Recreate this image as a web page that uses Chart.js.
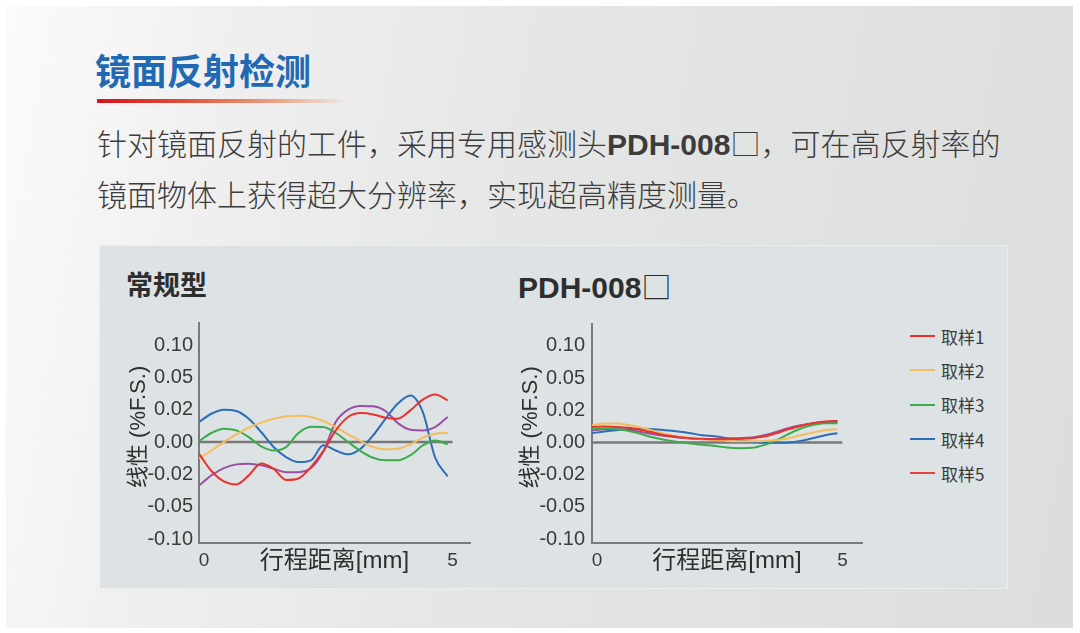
<!DOCTYPE html>
<html>
<head>
<meta charset="utf-8">
<script src="https://cdn.jsdelivr.net/npm/chart.js@4.4.0/dist/chart.umd.min.js"></script>
<style>
html,body{margin:0;padding:0;background:#fff;}
body{width:1080px;height:633px;position:relative;overflow:hidden;font-family:"Noto Sans CJK SC",sans-serif;}
.abs{position:absolute;white-space:nowrap;}
#card{left:6px;top:6px;width:1067px;height:622px;background:linear-gradient(100deg,#fbfbfb 0%,#eeeeee 22%,#e4e5e5 50%,#dcdddd 100%);}
#title{left:95px;top:51px;font-size:36px;font-weight:700;color:#1f6ab3;line-height:1;}
#uline{left:97px;top:99px;width:250px;height:4px;background:linear-gradient(90deg,#d4141a 0%,#e0503a 35%,#eaa080 70%,rgba(240,200,180,0) 100%);}
.para{left:97px;font-size:30px;line-height:1;color:#3c3c3c;font-weight:300;}
.para b{font-family:"Liberation Sans",Arial,sans-serif;font-weight:700;}
#panel{left:100px;top:246px;width:907px;height:342px;background:#dde3e4;box-shadow:0 0 0 1px #eceeee;}
.hdr{font-size:27px;font-weight:700;color:#2e2e2e;line-height:1;}
#hdr2{font-family:"Liberation Sans","Noto Sans CJK SC",sans-serif;font-size:30px;}
#hdr2 span{font-weight:400;font-family:"Noto Sans CJK SC";}
canvas{position:absolute;}
#legend{left:910px;top:319px;}
.li{display:flex;align-items:center;height:34.3px;font-size:17px;color:#3a3a3a;}
.li i{display:inline-block;width:25px;height:2px;margin-right:6px;}
</style>
</head>
<body>
<div id="card" class="abs"></div>
<div id="title" class="abs">镜面反射检测</div>
<div id="uline" class="abs"></div>
<div class="abs para" style="top:127px">针对镜面反射的工件，采用专用感测头<b>PDH-008</b>□，可在高反射率的</div>
<div class="abs para" style="top:178px">镜面物体上获得超大分辨率，实现超高精度测量。</div>
<div id="panel" class="abs"></div>
<div class="abs hdr" style="left:126px;top:270px">常规型</div>
<div id="hdr2" class="abs hdr" style="left:518px;top:270px">PDH-008<span>□</span></div>
<canvas id="c1" width="370" height="280" style="left:110px;top:305px"></canvas>
<canvas id="c2" width="372" height="280" style="left:500px;top:305px"></canvas>
<div id="legend" class="abs"></div>
<script>
// ---- data ----
const X_POS = [0,0.25,0.5,0.75,1,1.25,1.5,1.75,2,2.25,2.5,2.75,3,3.25,3.5,3.75,4,4.25,4.5,4.75,5];
const X_TICKS = [0,5];
const Y_TICKS = [-0.10,-0.05,-0.02,0.00,0.02,0.05,0.10];
const SERIES_NAMES = ['取样1','取样2','取样3','取样4','取样5'];
const CHART_TITLES = ['常规型','PDH-008□'];
const Y_TITLE = '  线性 (%F.S.)';
const X_TITLE = '行程距离[mm]';

// 常规型
const CONV_1 = [-0.0072,-0.0179,-0.0265,-0.0293,-0.0209,-0.0132,-0.0165,-0.0252,-0.0238,-0.0155,-0.0056,0.0072,0.0155,0.0179,0.0171,0.0150,0.0144,0.0196,0.0293,0.0341,0.0287];
const CONV_2 = [-0.0103,-0.0052,0.0000,0.0047,0.0089,0.0120,0.0144,0.0159,0.0163,0.0155,0.0130,0.0093,0.0047,0.0006,-0.0031,-0.0045,-0.0041,-0.0014,0.0027,0.0052,0.0056];
const CONV_3 = [0.0006,0.0056,0.0082,0.0072,0.0031,-0.0027,-0.0052,-0.0031,0.0056,0.0095,0.0093,0.0056,0.0000,-0.0056,-0.0097,-0.0113,-0.0113,-0.0082,-0.0021,0.0010,-0.0014];
const CONV_4 = [0.0124,0.0175,0.0200,0.0192,0.0144,0.0062,-0.0031,-0.0093,-0.0124,-0.0113,-0.0020,-0.0052,-0.0076,-0.0041,0.0041,0.0144,0.0257,0.0332,0.0186,-0.0097,-0.0218];
const CONV_5 = [-0.0302,-0.0209,-0.0161,-0.0138,-0.0134,-0.0144,-0.0165,-0.0186,-0.0186,-0.0161,-0.0058,0.0124,0.0200,0.0234,0.0231,0.0192,0.0117,0.0076,0.0072,0.0093,0.0155];

// PDH-008□
const PDH_1 = [0.0097,0.0099,0.0097,0.0091,0.0078,0.0062,0.0045,0.0035,0.0027,0.0023,0.0021,0.0021,0.0023,0.0027,0.0037,0.0058,0.0082,0.0103,0.0120,0.0130,0.0134];
const PDH_2 = [0.0109,0.0118,0.0118,0.0109,0.0093,0.0072,0.0052,0.0037,0.0027,0.0021,0.0016,0.0010,0.0008,0.0008,0.0010,0.0014,0.0027,0.0045,0.0062,0.0076,0.0082];
const PDH_3 = [0.0082,0.0087,0.0082,0.0072,0.0052,0.0031,0.0016,0.0004,-0.0006,-0.0014,-0.0021,-0.0031,-0.0035,-0.0033,-0.0016,0.0014,0.0052,0.0087,0.0109,0.0120,0.0120];
const PDH_4 = [0.0058,0.0068,0.0076,0.0082,0.0087,0.0082,0.0076,0.0068,0.0058,0.0045,0.0039,0.0027,0.0014,0.0004,0.0000,-0.0002,0.0000,0.0010,0.0027,0.0045,0.0058];
const PDH_5 = [0.0076,0.0082,0.0082,0.0078,0.0066,0.0052,0.0041,0.0031,0.0025,0.0021,0.0021,0.0025,0.0027,0.0031,0.0045,0.0066,0.0089,0.0107,0.0120,0.0128,0.0128];

const ZERO_LINE_X = [0, 5.1];

// ---- styles ----
const LINE_COLORS = ['#e8332c','#f4bd5e','#3cac4a','#2d6db8','#9b4ea6'];
const LEGEND_COLORS = ['#e8332c','#f4bd5e','#3cac4a','#2d6db8','#e2453e'];
const Y_INDEX_RANGE = [-0.12, 6.68];

class StepScale extends Chart.LinearScale {
  determineDataLimits(){ this.min = Y_TICKS[0]; this.max = Y_TICKS[Y_TICKS.length-1]; }
  buildTicks(){ return Y_TICKS.map(v => ({value: v})); }
  toIndex(v){
    const t = Y_TICKS, n = t.length - 1;
    if (v <= t[0]) return (v - t[0]) / (t[1] - t[0]);
    for (let i = 0; i < n; i++) if (v <= t[i+1]) return i + (v - t[i]) / (t[i+1] - t[i]);
    return n + (v - t[n]) / (t[n] - t[n-1]);
  }
  fromIndex(u){
    const t = Y_TICKS, n = t.length - 1;
    const i = Math.max(0, Math.min(n - 1, Math.floor(u)));
    return t[i] + (u - i) * (t[i+1] - t[i]);
  }
  getPixelForValue(v){
    const [a,b] = Y_INDEX_RANGE;
    return this.getPixelForDecimal((this.toIndex(v) - a) / (b - a));
  }
  getValueForPixel(p){
    const [a,b] = Y_INDEX_RANGE;
    return this.fromIndex(a + this.getDecimalForPixel(p) * (b - a));
  }
}
StepScale.id = 'step';
StepScale.defaults = Chart.LinearScale.defaults;
Chart.register(StepScale);

const NUM_FONT = '"Liberation Sans", Arial, "Noto Sans CJK SC", sans-serif';

function makeChart(id, series, cfg){
  const datasets = series.map((arr, i) => ({
    label: SERIES_NAMES[i],
    data: X_POS.map((x, j) => ({x: x, y: arr[j]})),
    borderColor: LINE_COLORS[i],
    borderWidth: 2,
    pointRadius: 0,
    fill: false,
    cubicInterpolationMode: 'monotone',
    order: 1
  }));
  datasets.push({
    label: 'zero',
    data: ZERO_LINE_X.map(x => ({x: x, y: 0})),
    borderColor: '#777777',
    borderWidth: 2.5,
    pointRadius: 0,
    order: 10
  });
  return new Chart(document.getElementById(id), {
    type: 'line',
    data: {datasets},
    options: {
      responsive: false,
      animation: false,
      devicePixelRatio: 1,
      layout: {padding: {top: 18, right: 10, left: 0, bottom: 0}},
      plugins: {legend: {display: false}, tooltip: {enabled: false}},
      scales: {
        x: {
          type: 'linear', min: 0, max: cfg.xMax,
          afterBuildTicks: s => { s.ticks = X_TICKS.map(v => ({value: v})); },
          afterFit: s => { s.height = 42; },
          grid: {display: false, drawTicks: false},
          border: {display: true, color: '#7b7b7b', width: 2},
          ticks: {autoSkip: false, maxRotation: 0, padding: 6, labelOffset: 5, color: '#3a3a3a',
                  font: {family: NUM_FONT, size: 19}, callback: v => String(v)},
          title: {display: true, text: X_TITLE, color: '#2e2e2e',
                  font: {family: NUM_FONT, size: 24}, padding: {top: 0, bottom: 9}}
        },
        y: {
          type: 'step',
          afterFit: s => { s.width = cfg.yWidth; },
          grid: {display: false, drawTicks: false},
          border: {display: true, color: '#7b7b7b', width: 2},
          ticks: {autoSkip: false, padding: cfg.tickPad, color: '#3a3a3a',
                  font: {family: NUM_FONT, size: 20}, callback: v => v.toFixed(2)},
          title: {display: true, text: Y_TITLE, color: '#2e2e2e',
                  font: {family: NUM_FONT, size: 22}, padding: {top: cfg.titlePad, bottom: 0}}
        }
      }
    }
  });
}

makeChart('c1', [CONV_1, CONV_2, CONV_3, CONV_4, CONV_5], {xMax: 5.45, yWidth: 89, tickPad: 6, titlePad: 16});
makeChart('c2', [PDH_1, PDH_2, PDH_3, PDH_4, PDH_5], {xMax: 5.5, yWidth: 92, tickPad: 7, titlePad: 18});

// legend
const lg = document.getElementById('legend');
SERIES_NAMES.forEach((n, i) => {
  const d = document.createElement('div');
  d.className = 'li';
  d.innerHTML = '<i style="background:' + LEGEND_COLORS[i] + '"></i>' + n;
  lg.appendChild(d);
});
</script>
</body>
</html>
